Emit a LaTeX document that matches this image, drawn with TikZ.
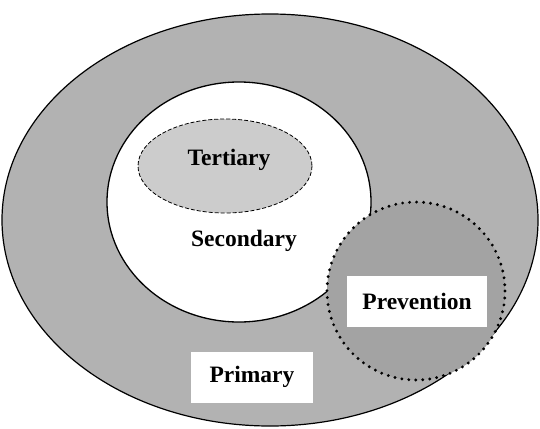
\documentclass[tikz,border=0pt]{standalone}
\usepackage{fontspec}
\setmainfont{Liberation Serif}
\begin{document}
\begin{tikzpicture}[x=1pt,y=-1pt,
  ring/.style={draw=black,line width=1.2pt,fill=black!30},
  inner/.style={draw=black,line width=1.3pt,fill=white},
  core/.style={draw=black,line width=0.8pt,dash pattern=on 4pt off 2pt,fill=black!20},
  prevent/.style={draw=black,line width=3.2pt,line cap=round,dash pattern=on 0pt off 7pt,fill=black!36},
  label/.style={font=\fontsize{23.5}{27}\selectfont\bfseries,text=black},
  whitebox/.style={fill=white,draw=none,minimum width=#1,minimum height=51pt,inner sep=0pt}
]
\useasboundingbox (0,0) rectangle (540,428);
\clip (0,0) rectangle (540,428);

% outer ring: primary level
\path[ring] (270,220) ellipse [x radius=268, y radius=206];
% secondary level
\path[inner] (239,202) ellipse [x radius=132, y radius=120];
% tertiary level
\path[core] (225,166) ellipse [x radius=87, y radius=47];
% prevention circle laid over the levels
\path[prevent] (416,291) circle [radius=89];

\node[label] (tert) at (229,160) {Tertiary};
\node[label] (sec) at (244,241) {Secondary};
\node[whitebox=140pt,label] (prev) at (417,301) {Prevention};
\node[whitebox=122pt,label] (prim) at (252,377) {Primary};
\end{tikzpicture}
\end{document}
